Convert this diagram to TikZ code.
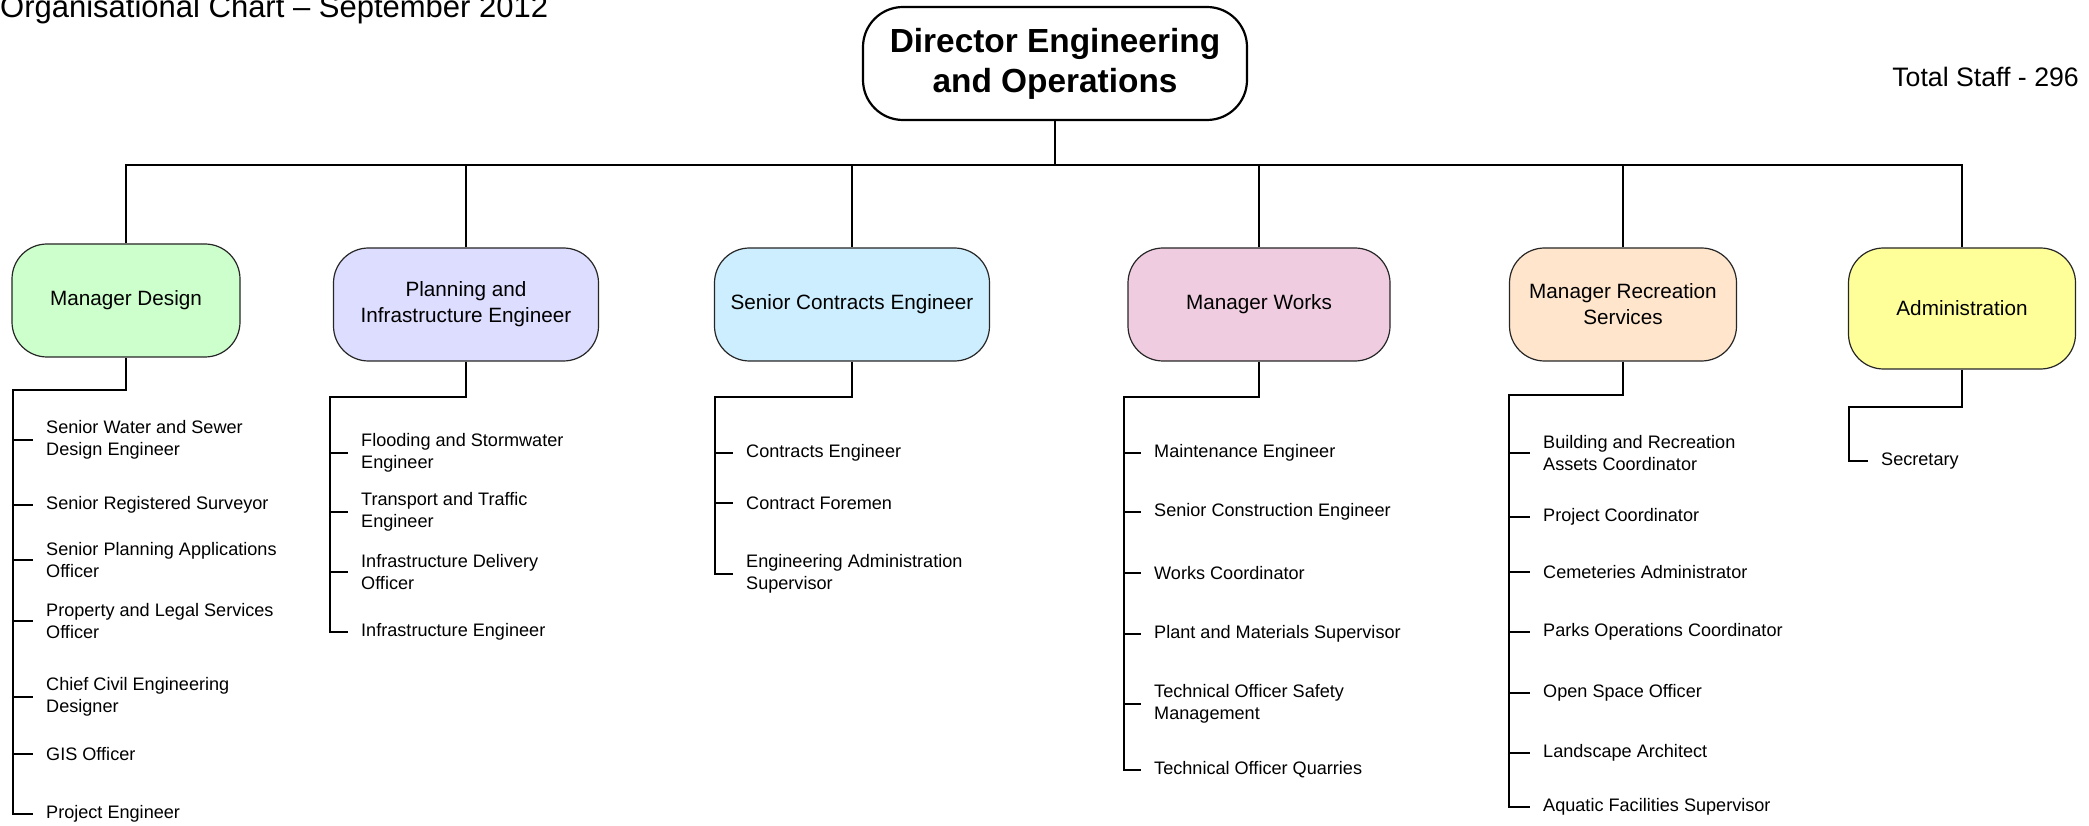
\documentclass[tikz,border=0pt]{standalone}
\usepackage{fontspec}
\setmainfont{Liberation Sans}
\usepackage{tikz}
\definecolor{designgreen}{HTML}{CCFFCC}
\definecolor{planlilac}{HTML}{DDDDFF}
\definecolor{contractblue}{HTML}{CCEEFF}
\definecolor{workspink}{HTML}{F0CCE0}
\definecolor{recpeach}{HTML}{FFE5CC}
\definecolor{adminyellow}{HTML}{FFFF99}
\tikzset{
  manager/.style={draw=black!85,line width=1.2pt,rounded corners=35pt,align=center,
    minimum height=113pt,font=\fontsize{20.7}{26}\selectfont},
  staff/.style={anchor=west,align=left,inner xsep=13pt,inner ysep=1pt,
    font=\fontsize{18.1}{22}\selectfont},
  link/.style={line width=2pt}
}

\begin{document}
\begin{tikzpicture}[x=1pt,y=-1pt]
\useasboundingbox (0,0) rectangle (2089,826);

\node[anchor=base west,inner sep=0pt,font=\fontsize{31}{36}\selectfont] (title) at (0,18) {Organisational Chart – September 2012};
\node[anchor=base east,inner sep=0pt,font=\fontsize{26.7}{32}\selectfont] (total) at (2079,87) {Total Staff - 296};

\node[draw,line width=2.2pt,rounded corners=40pt,minimum width=384pt,minimum height=113pt,align=center,
  font=\bfseries\fontsize{33.4}{40}\selectfont] (dir) at (1055,63.5) {Director Engineering\\and Operations};

\node[manager,fill=designgreen,minimum width=228pt] (md) at (126,300.5) {Manager Design};
\node[manager,fill=planlilac,minimum width=265pt] (pe) at (466,304.5) {Planning and\\Infrastructure Engineer};
\node[manager,fill=contractblue,minimum width=275pt] (sc) at (852,304.5) {Senior Contracts Engineer};
\node[manager,fill=workspink,minimum width=262pt] (mw) at (1259,304.5) {Manager Works};
\node[manager,fill=recpeach,minimum width=227pt] (mr) at (1623,304.5) {Manager Recreation\\Services};
\node[manager,fill=adminyellow,minimum width=227pt,minimum height=121pt] (ad) at (1962,308.5) {Administration};

\coordinate (bus) at (1055,165);
\draw[link] (dir.south) -- (bus);
\foreach \b in {md,pe,sc,mw,mr,ad}
  \draw[link] (\b.north) |- (bus);

% Manager Design
\node[staff] (md1) at (33,440) {Senior Water and Sewer\\Design Engineer};
\node[staff] (md2) at (33,505) {Senior Registered Surveyor};
\node[staff] (md3) at (33,560) {Senior Planning Applications\\Officer};
\node[staff] (md4) at (33,621) {Property and Legal Services\\Officer};
\node[staff] (md5) at (33,697) {Chief Civil Engineering\\Designer};
\node[staff] (md6) at (33,754) {GIS Officer};
\node[staff] (md7) at (33,814) {Project Engineer};
\coordinate (md-top) at (13,390);
\draw[link] (md.south) |- (md-top) |- (md7.west);
\foreach \i in {1,...,6}
  \draw[link] (md-top |- md\i.west) -- (md\i.west);

% Planning and Infrastructure
\node[staff] (pe1) at (348,453) {Flooding and Stormwater\\Engineer};
\node[staff] (pe2) at (348,512) {Transport and Traffic\\Engineer};
\node[staff] (pe3) at (348,572) {Infrastructure Delivery\\Officer};
\node[staff] (pe4) at (348,632) {Infrastructure Engineer};
\coordinate (pe-top) at (330,397);
\draw[link] (pe.south) |- (pe-top) |- (pe4.west);
\foreach \i in {1,...,3}
  \draw[link] (pe-top |- pe\i.west) -- (pe\i.west);

% Senior Contracts
\node[staff] (sc1) at (733,453) {Contracts Engineer};
\node[staff] (sc2) at (733,503) {Contract Foremen};
\node[staff] (sc3) at (733,574) {Engineering Administration\\Supervisor};
\coordinate (sc-top) at (715,397);
\draw[link] (sc.south) |- (sc-top) |- (sc3.west);
\foreach \i in {1,2}
  \draw[link] (sc-top |- sc\i.west) -- (sc\i.west);

% Manager Works
\node[staff] (mw1) at (1141,453) {Maintenance Engineer};
\node[staff] (mw2) at (1141,512) {Senior Construction Engineer};
\node[staff] (mw3) at (1141,573) {Works Coordinator};
\node[staff] (mw4) at (1141,634) {Plant and Materials Supervisor};
\node[staff] (mw5) at (1141,704) {Technical Officer Safety\\Management};
\node[staff] (mw6) at (1141,770) {Technical Officer Quarries};
\coordinate (mw-top) at (1124,397);
\draw[link] (mw.south) |- (mw-top) |- (mw6.west);
\foreach \i in {1,...,5}
  \draw[link] (mw-top |- mw\i.west) -- (mw\i.west);

% Manager Recreation Services
\node[staff] (mr1) at (1530,453) {Building and Recreation\\Assets Coordinator};
\node[staff] (mr2) at (1530,517) {Project Coordinator};
\node[staff] (mr3) at (1530,572) {Cemeteries Administrator};
\node[staff] (mr4) at (1530,632) {Parks Operations Coordinator};
\node[staff] (mr5) at (1530,693) {Open Space Officer};
\node[staff] (mr6) at (1530,753) {Landscape Architect};
\node[staff] (mr7) at (1530,807) {Aquatic Facilities Supervisor};
\coordinate (mr-top) at (1509,395);
\draw[link] (mr.south) |- (mr-top) |- (mr7.west);
\foreach \i in {1,...,6}
  \draw[link] (mr-top |- mr\i.west) -- (mr\i.west);

% Administration
\node[staff] (ad1) at (1868,461) {Secretary};
\coordinate (ad-top) at (1849,407);
\draw[link] (ad.south) |- (ad-top) |- (ad1.west);

\end{tikzpicture}
\end{document}
